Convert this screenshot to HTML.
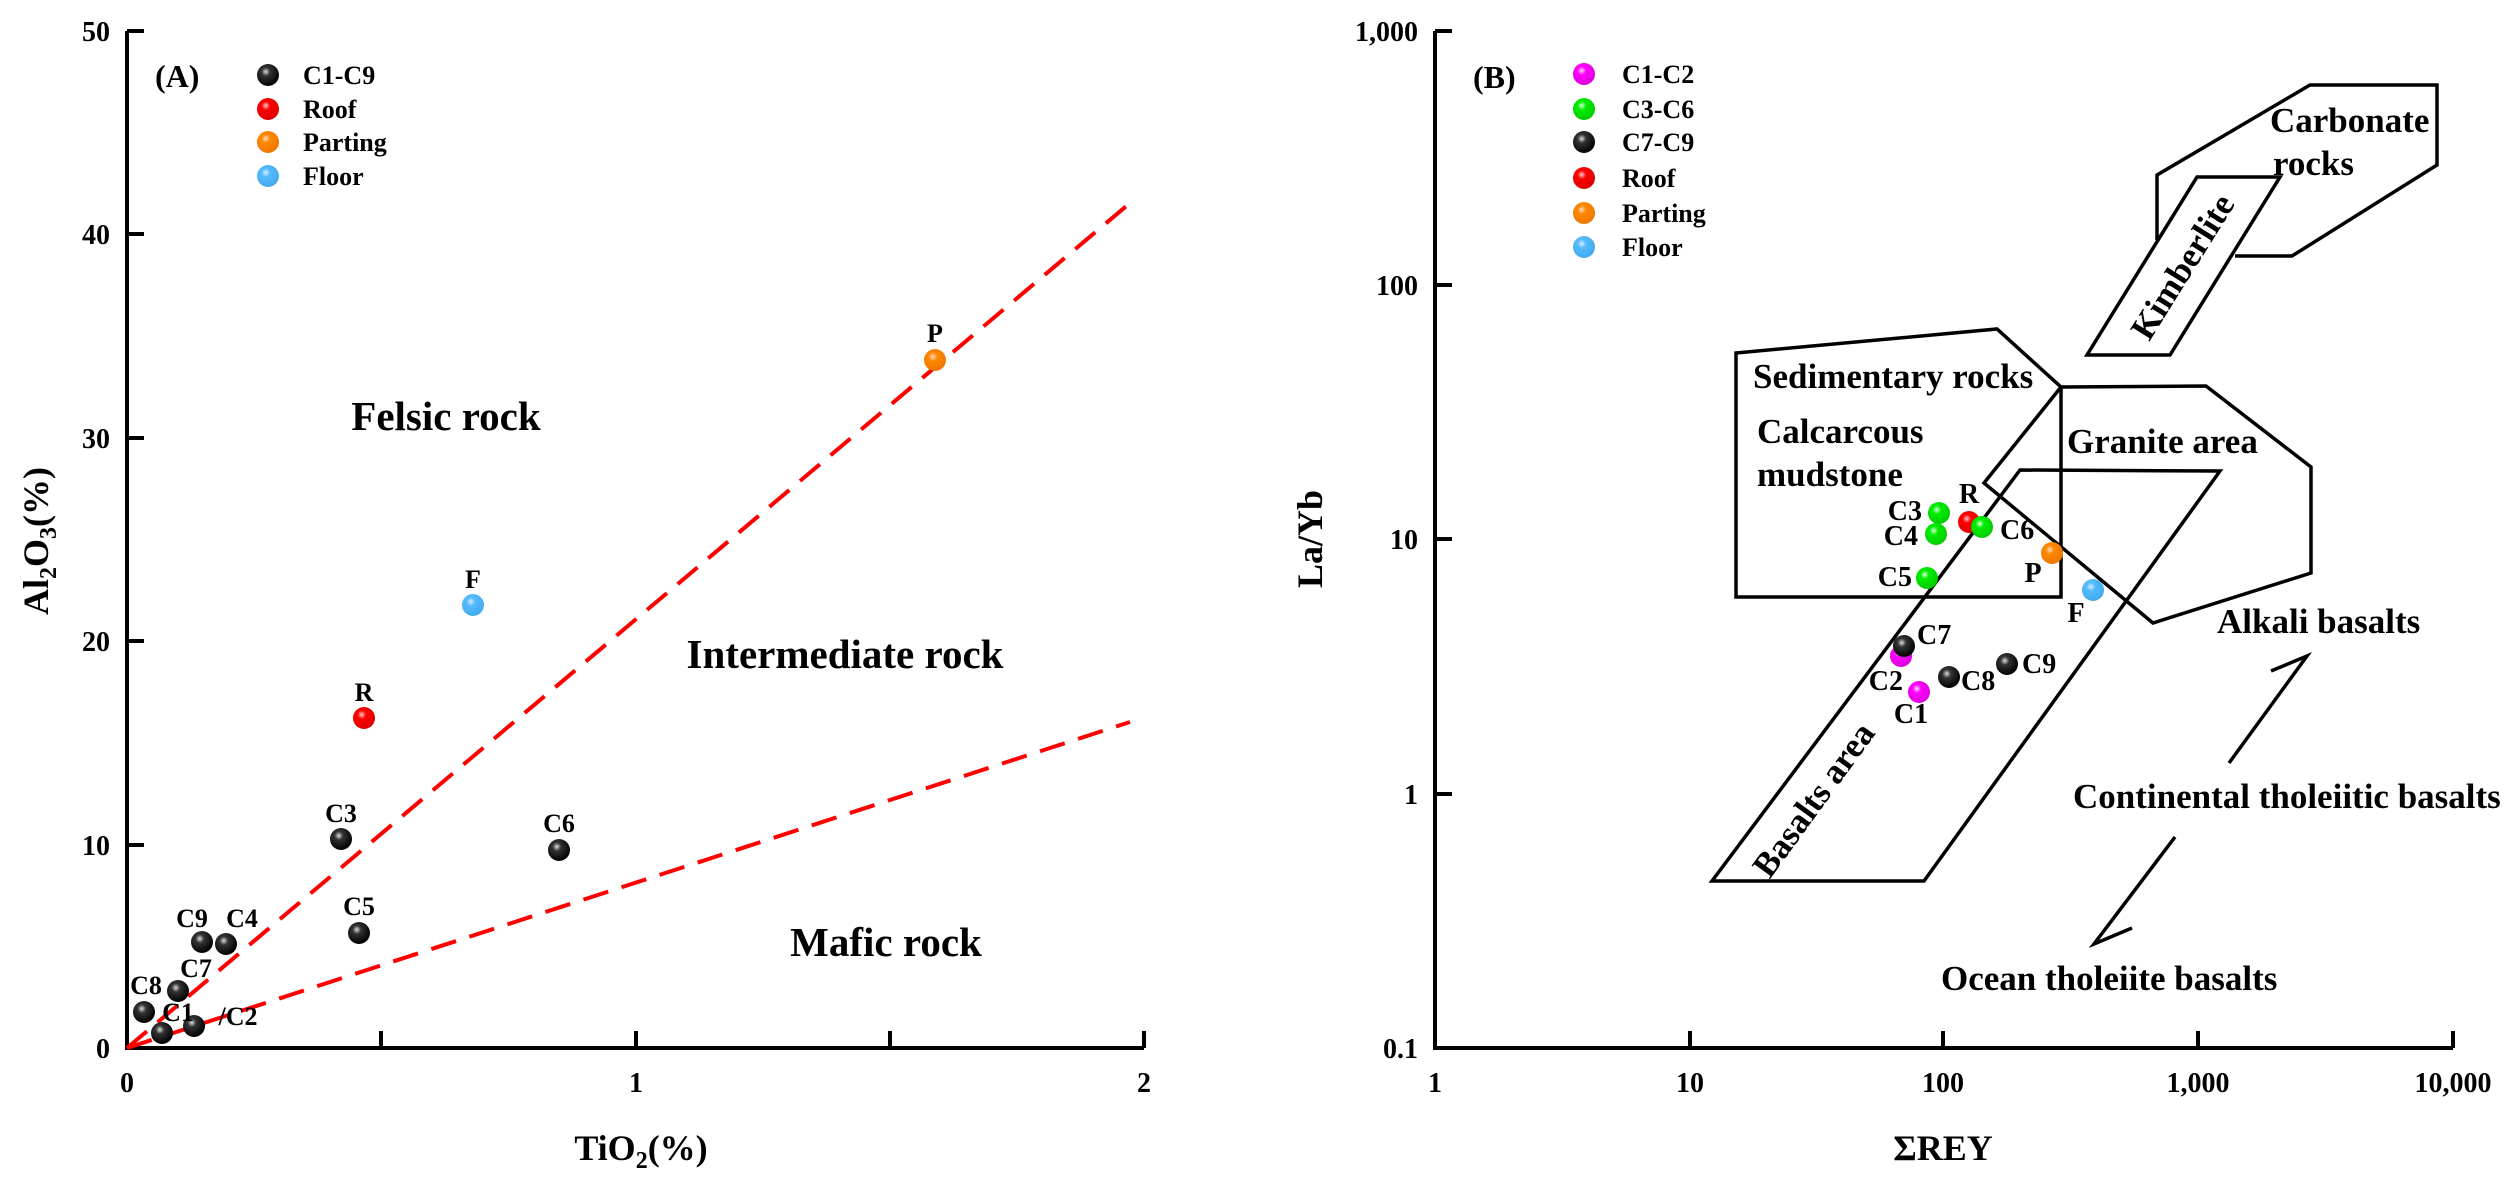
<!DOCTYPE html>
<html><head><meta charset="utf-8"><style>
html,body{margin:0;padding:0;background:#fff}
svg{display:block}
text{font-family:"Liberation Serif",serif;font-weight:bold;fill:#000}
</style></head><body>
<svg width="2513" height="1186" viewBox="0 0 2513 1186" xmlns="http://www.w3.org/2000/svg">
<defs>
<radialGradient id="gk" cx="0.4" cy="0.35" r="0.65"><stop offset="0" stop-color="#ddd"/><stop offset="0.3" stop-color="#333"/><stop offset="1" stop-color="#000"/></radialGradient>
<radialGradient id="gr" cx="0.4" cy="0.35" r="0.65"><stop offset="0" stop-color="#fcc"/><stop offset="0.3" stop-color="#f00"/><stop offset="1" stop-color="#d00"/></radialGradient>
<radialGradient id="go" cx="0.4" cy="0.35" r="0.65"><stop offset="0" stop-color="#fdc"/><stop offset="0.3" stop-color="#f80"/><stop offset="1" stop-color="#e70"/></radialGradient>
<radialGradient id="gb" cx="0.4" cy="0.35" r="0.65"><stop offset="0" stop-color="#def"/><stop offset="0.3" stop-color="#5bf"/><stop offset="1" stop-color="#4ae"/></radialGradient>
<radialGradient id="gm" cx="0.4" cy="0.35" r="0.65"><stop offset="0" stop-color="#fdf"/><stop offset="0.3" stop-color="#f0f"/><stop offset="1" stop-color="#d0d"/></radialGradient>
<radialGradient id="gg" cx="0.4" cy="0.35" r="0.65"><stop offset="0" stop-color="#dfd"/><stop offset="0.3" stop-color="#0e0"/><stop offset="1" stop-color="#0c0"/></radialGradient>
</defs>

<!-- Panel A axes -->
<g stroke="#000" stroke-width="4" fill="none">
<path d="M127 31 V1048 H1144"/>
<path d="M127 31 h17 M127 234 h17 M127 438 h17 M127 641 h17 M127 845 h17"/>
<path d="M381 1048 v-17 M636 1048 v-17 M890 1048 v-17 M1144 1048 v-17"/>
</g>
<g font-size="28" text-anchor="end">
<text x="110" y="41">50</text><text x="110" y="244">40</text><text x="110" y="448">30</text>
<text x="110" y="651">20</text><text x="110" y="855">10</text><text x="110" y="1058">0</text>
</g>
<g font-size="28" text-anchor="middle">
<text x="127" y="1092">0</text><text x="636" y="1092">1</text><text x="1144" y="1092">2</text>
</g>
<text x="641" y="1160" font-size="36" text-anchor="middle">TiO<tspan font-size="24" dy="8">2</tspan><tspan dy="-8">(%)</tspan></text>
<text transform="translate(48,541) rotate(-90)" font-size="36" text-anchor="middle">Al<tspan font-size="24" dy="8">2</tspan><tspan dy="-8">O</tspan><tspan font-size="24" dy="8">3</tspan><tspan dy="-8">(%)</tspan></text>

<g stroke="#f00" stroke-width="4" stroke-dasharray="26 14" fill="none">
<path d="M127 1048 L1130 203"/>
<path d="M127 1048 L1130 722"/>
</g>

<text x="155" y="87" font-size="32">(A)</text>
<g>
<circle cx="268" cy="75" r="11" fill="url(#gk)"/><circle cx="268" cy="109" r="11" fill="url(#gr)"/>
<circle cx="268" cy="142" r="11" fill="url(#go)"/><circle cx="268" cy="176" r="11" fill="url(#gb)"/>
</g>
<g font-size="26"><text x="303" y="84">C1-C9</text><text x="303" y="118">Roof</text><text x="303" y="151">Parting</text><text x="303" y="185">Floor</text></g>

<g font-size="41" text-anchor="middle">
<text x="446" y="430">Felsic rock</text><text x="845" y="668">Intermediate rock</text><text x="886" y="956">Mafic rock</text>
</g>

<g>
<circle cx="935" cy="360" r="11" fill="url(#go)"/>
<circle cx="473" cy="605" r="11" fill="url(#gb)"/>
<circle cx="364" cy="718" r="11" fill="url(#gr)"/>
<circle cx="341" cy="839" r="11" fill="url(#gk)"/>
<circle cx="559" cy="850" r="11" fill="url(#gk)"/>
<circle cx="359" cy="933" r="11" fill="url(#gk)"/>
<circle cx="202" cy="942" r="11" fill="url(#gk)"/>
<circle cx="226" cy="944" r="11" fill="url(#gk)"/>
<circle cx="178" cy="991" r="11" fill="url(#gk)"/>
<circle cx="144" cy="1012" r="11" fill="url(#gk)"/>
<circle cx="162" cy="1033" r="11" fill="url(#gk)"/>
<circle cx="194" cy="1026" r="11" fill="url(#gk)"/>
</g>
<g font-size="26" text-anchor="middle">
<text x="935" y="342">P</text><text x="473" y="588">F</text><text x="364" y="701">R</text>
<text x="341" y="822">C3</text><text x="559" y="832">C6</text><text x="359" y="915">C5</text>
<text x="192" y="927">C9</text><text x="242" y="927">C4</text><text x="196" y="977">C7</text>
<text x="146" y="994">C8</text><text x="178" y="1021">C1</text><text x="238" y="1025">/C2</text>
</g>

<!-- Panel B axes -->
<g stroke="#000" stroke-width="4" fill="none">
<path d="M1435 31 V1048 H2453"/>
<path d="M1435 31 h17 M1435 285 h17 M1435 539 h17 M1435 794 h17"/>
<path d="M1690 1048 v-17 M1943 1048 v-17 M2198 1048 v-17 M2453 1048 v-17"/>
</g>
<g font-size="28" text-anchor="end">
<text x="1418" y="41">1,000</text><text x="1418" y="295">100</text><text x="1418" y="549">10</text>
<text x="1418" y="804">1</text><text x="1418" y="1058">0.1</text>
</g>
<g font-size="28" text-anchor="middle">
<text x="1435" y="1092">1</text><text x="1690" y="1092">10</text><text x="1943" y="1092">100</text>
<text x="2198" y="1092">1,000</text><text x="2453" y="1092">10,000</text>
</g>
<text x="1943" y="1160" font-size="36" text-anchor="middle">ΣREY</text>
<text transform="translate(1322,539) rotate(-90)" font-size="36" text-anchor="middle">La/Yb</text>

<text x="1473" y="88" font-size="32">(B)</text>
<g>
<circle cx="1584" cy="74" r="11" fill="url(#gm)"/><circle cx="1584" cy="109" r="11" fill="url(#gg)"/>
<circle cx="1584" cy="142" r="11" fill="url(#gk)"/><circle cx="1584" cy="178" r="11" fill="url(#gr)"/>
<circle cx="1584" cy="213" r="11" fill="url(#go)"/><circle cx="1584" cy="247" r="11" fill="url(#gb)"/>
</g>
<g font-size="26"><text x="1622" y="83">C1-C2</text><text x="1622" y="118">C3-C6</text><text x="1622" y="151">C7-C9</text><text x="1622" y="187">Roof</text><text x="1622" y="222">Parting</text><text x="1622" y="256">Floor</text></g>

<g stroke="#000" stroke-width="3.5" fill="none" stroke-linejoin="miter">
<path d="M2235 256 L2292 256 L2437 165 L2437 85 L2310 85 L2157 175 L2157 240"/>
<path d="M2197 177 L2280 177 L2170 355 L2087 355 Z"/>
<path d="M1736 353 L1997 329 L2061 387 L2061 597 L1736 597 Z"/>
<path d="M2061 387 L2206 386 L2311 467 L2311 573 L2153 623 L1984 483 Z"/>
<path d="M2020 470 L2220 471 L1924 881 L1712 881 Z"/>
<path d="M2229 763 L2307 656 L2271 671"/>
<path d="M2175 837 L2094 944 L2132 928"/>
</g>

<g font-size="35">
<text x="2270" y="132">Carbonate</text><text x="2273" y="175">rocks</text>
<text x="1753" y="388">Sedimentary rocks</text>
<text x="1757" y="443">Calcarcous</text><text x="1757" y="486">mudstone</text>
<text x="2067" y="453">Granite area</text>
<text x="2217" y="633">Alkali basalts</text>
<text x="2073" y="808">Continental tholeiitic basalts</text>
<text x="1941" y="990">Ocean tholeiite basalts</text>
<text transform="translate(2183,267) rotate(-58)" text-anchor="middle" dy="11">Kimberlite</text>
<text transform="translate(1814,800) rotate(-54)" text-anchor="middle" dy="11">Basalts area</text>
</g>

<g>
<circle cx="1939" cy="513" r="11" fill="url(#gg)"/>
<circle cx="1936" cy="534" r="11" fill="url(#gg)"/>
<circle cx="1969" cy="522" r="11" fill="url(#gr)"/>
<circle cx="1982" cy="527" r="11" fill="url(#gg)"/>
<circle cx="2052" cy="553" r="11" fill="url(#go)"/>
<circle cx="2093" cy="590" r="11" fill="url(#gb)"/>
<circle cx="1927" cy="578" r="11" fill="url(#gg)"/>
<circle cx="1901" cy="656" r="11" fill="url(#gm)"/>
<circle cx="1904" cy="646" r="11" fill="url(#gk)"/>
<circle cx="1949" cy="677" r="11" fill="url(#gk)"/>
<circle cx="2007" cy="664" r="11" fill="url(#gk)"/>
<circle cx="1919" cy="692" r="11" fill="url(#gm)"/>
</g>
<g font-size="28">
<text x="1922" y="520" text-anchor="end">C3</text>
<text x="1918" y="545" text-anchor="end">C4</text>
<text x="1969" y="503" text-anchor="middle">R</text>
<text x="2000" y="539">C6</text>
<text x="2033" y="582" text-anchor="middle">P</text>
<text x="2076" y="622" text-anchor="middle">F</text>
<text x="1912" y="586" text-anchor="end">C5</text>
<text x="1917" y="644">C7</text>
<text x="1903" y="690" text-anchor="end">C2</text>
<text x="1961" y="690">C8</text>
<text x="2022" y="673">C9</text>
<text x="1911" y="723" text-anchor="middle">C1</text>
</g>
</svg>
</body></html>
